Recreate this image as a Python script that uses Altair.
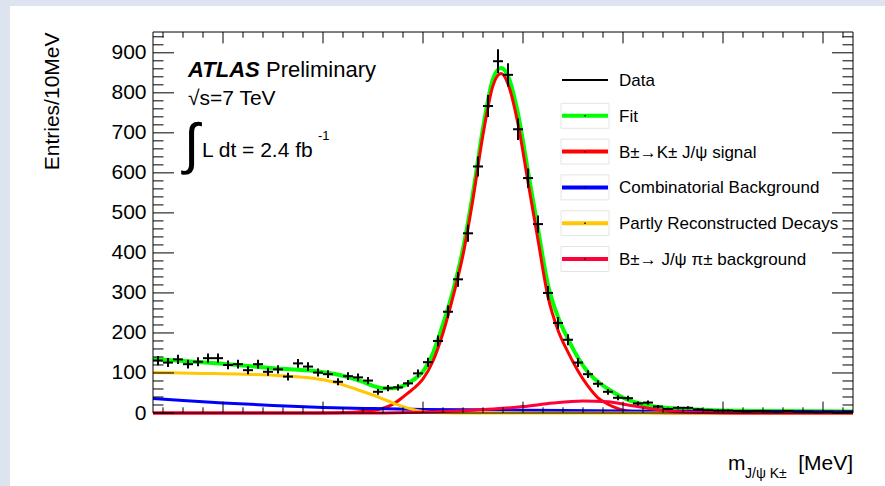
import altair as alt
import pandas as pd
import numpy as np

# ---------------- data ----------------
bin_centers = list(range(4935, 5630, 10))
counts = [131, 126, 134, 122, 128, 137, 137, 120, 122, 107,
          122, 103, 109, 91, 124, 116, 101, 97, 78, 92,
          89, 81, 53, 62, 64, 74, 99, 127, 180, 253,
          334, 449, 616, 767, 879, 845, 709, 587, 472, 300,
          225, 183, 126, 97, 73, 53, 38, 37, 24, 26,
          16, 10, 13, 13, 9, 7, 6, 6, 5, 4,
          5, 4, 3, 5, 3, 3, 2, 3, 2, 3]

fit_x = [4930, 4960, 5000, 5050, 5100, 5120, 5140, 5150, 5160, 5170, 5180, 5190, 5200,
         5210, 5220, 5230, 5240, 5250, 5260, 5270, 5278, 5285, 5295, 5305, 5315, 5325,
         5335, 5345, 5355, 5365, 5375, 5385, 5395, 5405, 5415, 5425, 5440, 5460, 5480,
         5500, 5550, 5630]
fit_y = [135, 130, 123, 112, 102, 93, 78, 68, 62, 62, 68, 82, 104,
         150, 222, 305, 410, 550, 712, 835, 862, 842, 748, 604, 460, 320,
         240, 185, 138, 102, 78, 60, 45, 33, 25, 19, 14, 10, 8,
         6, 5, 4]

sig_x = [4930, 5100, 5130, 5150, 5160, 5170, 5180, 5190, 5200, 5210, 5220, 5230, 5240,
         5250, 5260, 5270, 5278, 5285, 5295, 5305, 5315, 5325, 5335, 5345, 5355, 5365,
         5375, 5385, 5395, 5405, 5420, 5450, 5630]
sig_y = [0, 0, 2, 6, 12, 22, 40, 60, 85, 130, 200, 290, 395,
         535, 695, 818, 848, 822, 722, 577, 432, 290, 207, 152, 105, 67,
         38, 22, 11, 5, 1, 0, 0]

comb_x = [4930, 4960, 5000, 5050, 5100, 5150, 5200, 5300, 5400, 5500, 5630]
comb_y = [36, 31, 25, 19, 14, 11, 9, 7, 5, 4, 3]

part_x = [4930, 4980, 5020, 5060, 5090, 5110, 5130, 5150, 5165, 5180, 5195, 5210, 5230, 5630]
part_y = [101, 99, 97, 93, 87, 78, 62, 45, 30, 16, 6, 1, 0, 0]

pi_x = [4930, 5150, 5200, 5250, 5300, 5330, 5360, 5385, 5405, 5425, 5450, 5480, 5510, 5630]
pi_y = [0, 0, 2, 7, 16, 25, 30, 28, 20, 12, 4, 1, 0, 0]

legend_names = ["Data", "Fit", "B\u00b1\u2192K\u00b1 J/\u03c8 signal", "Combinatorial Background",
                "Partly Reconstructed Decays", "B\u00b1\u2192 J/\u03c8 \u03c0\u00b1 background"]
legend_colors = ["#000000", "#00ff00", "#ff0000", "#0000ff", "#ffc800", "#ff0038"]

x_tick_labels = [5000, 5100, 5200, 5300, 5400, 5500, 5600]
y_tick_labels = [0, 100, 200, 300, 400, 500, 600, 700, 800, 900]
x_minor = [v for v in range(4940, 5630, 20) if v % 100 != 0]
y_minor = [v for v in range(20, 952, 20) if v % 100 != 0]

txt_atlas = "ATLAS"
txt_prelim = "Preliminary"
txt_sqrts = "\u221as=7 TeV"
txt_int = "\u222b"
txt_lumi = "L dt = 2.4 fb"
txt_sup = "-1"
txt_m = "m"
txt_sub = "J/\u03c8 K\u00b1"
txt_unit = "[MeV]"
y_title = "Entries/10MeV"

# ---------------- build ----------------
W, H = 700, 381
FONT = "Liberation Sans"
X_SCALE = alt.Scale(domain=[4930, 5630], nice=False, zero=False)
Y_SCALE = alt.Scale(domain=[0, 952], nice=False, zero=False)
COLOR_SCALE = alt.Scale(domain=legend_names, range=legend_colors)

one = pd.DataFrame({"a": [1]})

bg = alt.Chart(one).mark_rect(color="white").encode(
    x=alt.value(-143), x2=alt.value(732), y=alt.value(-26), y2=alt.value(454))

x_axis = alt.Axis(values=x_tick_labels, ticks=False, domain=False, grid=False,
                  labelFontSize=21, labelPadding=8, labelColor="black", labelFont=FONT,
                  title=None, zindex=1, labelOverlap=False)
y_axis = alt.Axis(values=y_tick_labels, ticks=False, domain=False, grid=False,
                  labelFontSize=21, labelPadding=7, labelColor="black", labelFont=FONT,
                  title=y_title, titleFontSize=21, titleFontWeight="normal", titleFont=FONT,
                  titleColor="black", titleX=-101, titleY=0, titleAlign="right",
                  titleBaseline="middle", titleAngle=270, zindex=1, labelOverlap=False)

layers = [bg]

curve_specs = [
    (fit_x, fit_y, legend_names[1], 4),
    (sig_x, sig_y, legend_names[2], 3),
    (comb_x, comb_y, legend_names[3], 3),
    (part_x, part_y, legend_names[4], 3),
    (pi_x, pi_y, legend_names[5], 3),
]
first = True
for xs, ys, name, sw in curve_specs:
    df = pd.DataFrame({"x": xs, "y": ys, "series": name})
    layers.append(
        alt.Chart(df).mark_line(interpolate="monotone", strokeWidth=sw).encode(
            x=alt.X("x:Q", scale=X_SCALE, axis=x_axis if first else None),
            y=alt.Y("y:Q", scale=Y_SCALE, axis=y_axis if first else None),
            color=alt.Color("series:N", scale=COLOR_SCALE, legend=None),
        )
    )
    first = False

data_df = pd.DataFrame({"x": bin_centers, "y": counts})
err = np.sqrt(data_df["y"])
data_df["lo"] = data_df["y"] - err
data_df["hi"] = data_df["y"] + err
data_df["xl"] = data_df["x"] - 5
data_df["xr"] = data_df["x"] + 5

layers.append(alt.Chart(data_df).mark_rule(color="black", strokeWidth=2).encode(
    x=alt.X("x:Q", scale=X_SCALE, axis=None),
    y=alt.Y("lo:Q", scale=Y_SCALE, axis=None), y2="hi:Q"))
layers.append(alt.Chart(data_df).mark_rule(color="black", strokeWidth=2).encode(
    x=alt.X("xl:Q", scale=X_SCALE, axis=None), x2="xr:Q",
    y=alt.Y("y:Q", scale=Y_SCALE, axis=None)))

# frame
layers.append(alt.Chart(one).mark_rect(fillOpacity=0, stroke="black", strokeWidth=1).encode(
    x=alt.value(0), x2=alt.value(W), y=alt.value(0), y2=alt.value(H)))

# ticks (inward, ROOT style)
def xticks(vals, length):
    d = pd.DataFrame({"x": vals})
    bottom = alt.Chart(d).mark_rule(color="black", strokeWidth=1).encode(
        x=alt.X("x:Q", scale=X_SCALE, axis=None), y=alt.value(H), y2=alt.value(H - length))
    top = alt.Chart(d).mark_rule(color="black", strokeWidth=1).encode(
        x=alt.X("x:Q", scale=X_SCALE, axis=None), y=alt.value(0), y2=alt.value(length))
    return [bottom, top]

def yticks(vals, length):
    d = pd.DataFrame({"y": vals})
    left = alt.Chart(d).mark_rule(color="black", strokeWidth=1).encode(
        y=alt.Y("y:Q", scale=Y_SCALE, axis=None), x=alt.value(0), x2=alt.value(length))
    right = alt.Chart(d).mark_rule(color="black", strokeWidth=1).encode(
        y=alt.Y("y:Q", scale=Y_SCALE, axis=None), x=alt.value(W), x2=alt.value(W - length))
    return [left, right]

layers += xticks(x_tick_labels, 11.4) + xticks(x_minor, 5.7)
layers += yticks(y_tick_labels, 21) + yticks(y_minor, 10.5)

# text annotations
def label(text, x, y, size, **kw):
    return alt.Chart(pd.DataFrame({"t": [text]})).mark_text(
        align=kw.pop("align", "left"), baseline="alphabetic", fontSize=size, font=FONT,
        color="black", **kw).encode(text="t:N", x=alt.value(x), y=alt.value(y))

layers += [
    label(txt_atlas, 35, 45, 22, fontWeight="bold", fontStyle="italic"),
    label(txt_prelim, 113, 45, 22),
    label(txt_sqrts, 35, 73, 21),
    label(txt_int, 31, 131, 56),
    label(txt_lumi, 49, 125, 21),
    label(txt_sup, 165, 108, 13),
    label(txt_m, 575, 438, 21),
    label(txt_sub, 592, 446, 14),
    label(txt_unit, 700, 438, 21, align="right"),
]

# legend (drawn manually, ROOT style)
leg_df = pd.DataFrame({"name": legend_names})
LEG_Y = alt.Y("name:N", scale=alt.Scale(type="point", domain=legend_names, range=[48, 227], padding=0),
              axis=None)
leg_boxed = leg_df[leg_df["name"] != "Data"]
leg_data = leg_df[leg_df["name"] == "Data"]
layers.append(alt.Chart(leg_boxed).mark_point(
    shape="M-1,-0.52H1V0.52H-1Z", size=2304, filled=False, stroke="#e4e4e4", strokeWidth=1, opacity=1).encode(
    x=alt.value(432), y=LEG_Y))
layers.append(alt.Chart(leg_boxed).mark_rule(strokeWidth=4).encode(
    x=alt.value(409), x2=alt.value(455), y=LEG_Y,
    color=alt.Color("name:N", scale=COLOR_SCALE, legend=None)))
layers.append(alt.Chart(leg_data).mark_rule(strokeWidth=2, color="black").encode(
    x=alt.value(409), x2=alt.value(455), y=LEG_Y))
layers.append(alt.Chart(leg_boxed).mark_square(size=2, color="black", opacity=1).encode(
    x=alt.value(432), y=LEG_Y))
layers.append(alt.Chart(leg_df).mark_text(align="left", baseline="middle", fontSize=17,
                                          font=FONT, color="black", dy=1).encode(
    x=alt.value(466), y=LEG_Y, text="name:N"))

chart = alt.layer(*layers).resolve_scale(y="independent").properties(
    width=W, height=H,
    padding={"left": 153, "top": 32, "right": 32, "bottom": 73},
    autosize=alt.AutoSizeParams(type="none"),
    background="#dde4f0",
).configure_view(strokeWidth=0).configure(font=FONT)

chart.save("out.html", embed_options={"renderer": "svg", "actions": False})
